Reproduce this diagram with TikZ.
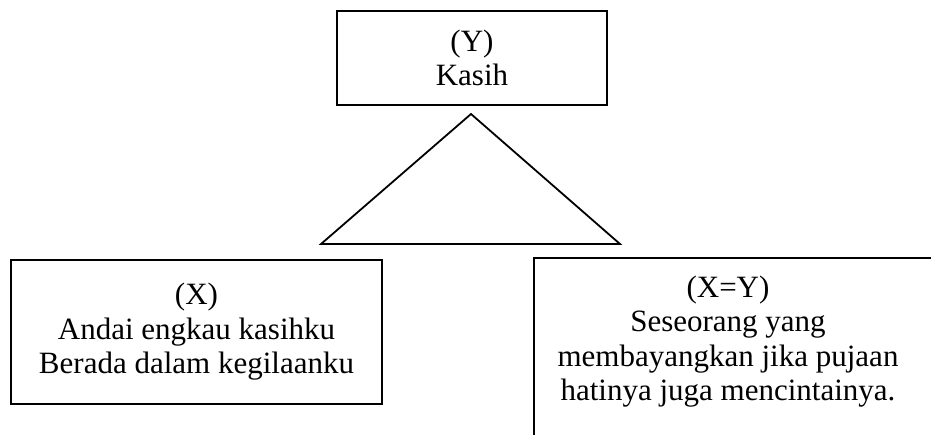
\documentclass[tikz,border=0pt]{standalone}
\usepackage{fontspec}
\setmainfont{Liberation Serif}
\begin{document}
\begin{tikzpicture}[x=1pt,y=-1pt,
  txt/.style={align=center,font=\fontsize{31}{34.5}\selectfont,inner sep=0pt},
  box/.style={txt,draw,line width=1.8pt,minimum width=#1},
  edge/.style={line width=1.8pt,line join=miter}]
  \useasboundingbox (0,0) rectangle (931,434);
  \clip (0,0) rectangle (931,434);

  % top concept
  \node[box=270pt,minimum height=94pt] (kasih) at (472,58) {(Y)\\Kasih};

  % triangle linking the concept to the two readings
  \coordinate (apex) at (471,114);
  \coordinate (bl) at (321,244);
  \coordinate (br) at (620,244);
  \draw[edge] (apex) -- (bl) -- (br) -- cycle;

  % left reading
  \node[box=371pt,minimum height=144pt] (x) at (196.5,332)
    {(X)\\Andai engkau kasihku\\Berada dalam kegilaanku};

  % right reading, its frame running off the page
  \coordinate (rtl) at (534,258);
  \draw[edge] (534,450) -- (rtl) -- (950,258);
  \node[txt] (xy) at (728,341.5)
    {(X=Y)\\Seseorang yang\\membayangkan jika pujaan\\hatinya juga mencintainya.};
\end{tikzpicture}
\end{document}
